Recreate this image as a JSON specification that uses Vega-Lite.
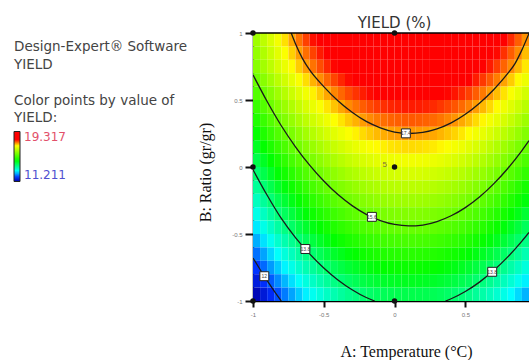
{
"width":276,"height":268,
"autosize":{"type":"none"},
"padding":{"left":253,"top":33,"right":0,"bottom":59},
"background":"white",
"config":{"view":{"stroke":null}},
"title":{"text":["Design-Expert® Software","YIELD"],"anchor":"start","frame":"group","baseline":"top","lineHeight":17.5,"dx":-239,"dy":56,"offset":0,"font":"DejaVu Sans","fontSize":13.5,"fontWeight":"normal","color":"#444444"},
"resolve":{"scale":{"x":"independent","y":"independent"}},
"layer":[
{
"data":{"values":[
{"a":-0.975,"b":0.95,"v":16.1},{"a":-0.925,"b":0.95,"v":16.38},{"a":-0.875,"b":0.95,"v":16.64},{"a":-0.825,"b":0.95,"v":16.89},{"a":-0.775,"b":0.95,"v":17.12},{"a":-0.725,"b":0.95,"v":17.34},{"a":-0.675,"b":0.95,"v":17.55},{"a":-0.625,"b":0.95,"v":17.75},{"a":-0.575,"b":0.95,"v":17.94},{"a":-0.525,"b":0.95,"v":18.11},{"a":-0.475,"b":0.95,"v":18.26},{"a":-0.425,"b":0.95,"v":18.41},{"a":-0.375,"b":0.95,"v":18.54},{"a":-0.325,"b":0.95,"v":18.66},{"a":-0.275,"b":0.95,"v":18.77},{"a":-0.225,"b":0.95,"v":18.86},{"a":-0.175,"b":0.95,"v":18.94},{"a":-0.125,"b":0.95,"v":19.01},{"a":-0.075,"b":0.95,"v":19.06},{"a":-0.025,"b":0.95,"v":19.1},{"a":0.025,"b":0.95,"v":19.13},{"a":0.075,"b":0.95,"v":19.15},{"a":0.125,"b":0.95,"v":19.15},{"a":0.175,"b":0.95,"v":19.14},{"a":0.225,"b":0.95,"v":19.12},{"a":0.275,"b":0.95,"v":19.08},{"a":0.325,"b":0.95,"v":19.03},{"a":0.375,"b":0.95,"v":18.97},{"a":0.425,"b":0.95,"v":18.89},{"a":0.475,"b":0.95,"v":18.81},{"a":0.525,"b":0.95,"v":18.7},{"a":0.575,"b":0.95,"v":18.59},{"a":0.625,"b":0.95,"v":18.46},{"a":0.675,"b":0.95,"v":18.32},{"a":0.725,"b":0.95,"v":18.17},{"a":0.775,"b":0.95,"v":18.01},{"a":0.825,"b":0.95,"v":17.83},{"a":0.875,"b":0.95,"v":17.63},{"a":0.925,"b":0.95,"v":17.43},
{"a":-0.975,"b":0.85,"v":15.99},{"a":-0.925,"b":0.85,"v":16.25},{"a":-0.875,"b":0.85,"v":16.5},{"a":-0.825,"b":0.85,"v":16.74},{"a":-0.775,"b":0.85,"v":16.97},{"a":-0.725,"b":0.85,"v":17.18},{"a":-0.675,"b":0.85,"v":17.38},{"a":-0.625,"b":0.85,"v":17.57},{"a":-0.575,"b":0.85,"v":17.74},{"a":-0.525,"b":0.85,"v":17.9},{"a":-0.475,"b":0.85,"v":18.06},{"a":-0.425,"b":0.85,"v":18.19},{"a":-0.375,"b":0.85,"v":18.32},{"a":-0.325,"b":0.85,"v":18.43},{"a":-0.275,"b":0.85,"v":18.53},{"a":-0.225,"b":0.85,"v":18.62},{"a":-0.175,"b":0.85,"v":18.7},{"a":-0.125,"b":0.85,"v":18.76},{"a":-0.075,"b":0.85,"v":18.82},{"a":-0.025,"b":0.85,"v":18.86},{"a":0.025,"b":0.85,"v":18.88},{"a":0.075,"b":0.85,"v":18.9},{"a":0.125,"b":0.85,"v":18.9},{"a":0.175,"b":0.85,"v":18.89},{"a":0.225,"b":0.85,"v":18.87},{"a":0.275,"b":0.85,"v":18.83},{"a":0.325,"b":0.85,"v":18.79},{"a":0.375,"b":0.85,"v":18.73},{"a":0.425,"b":0.85,"v":18.66},{"a":0.475,"b":0.85,"v":18.57},{"a":0.525,"b":0.85,"v":18.48},{"a":0.575,"b":0.85,"v":18.37},{"a":0.625,"b":0.85,"v":18.25},{"a":0.675,"b":0.85,"v":18.11},{"a":0.725,"b":0.85,"v":17.97},{"a":0.775,"b":0.85,"v":17.81},{"a":0.825,"b":0.85,"v":17.64},{"a":0.875,"b":0.85,"v":17.46},{"a":0.925,"b":0.85,"v":17.26},
{"a":-0.975,"b":0.75,"v":15.88},{"a":-0.925,"b":0.75,"v":16.13},{"a":-0.875,"b":0.75,"v":16.37},{"a":-0.825,"b":0.75,"v":16.6},{"a":-0.775,"b":0.75,"v":16.81},{"a":-0.725,"b":0.75,"v":17.01},{"a":-0.675,"b":0.75,"v":17.2},{"a":-0.625,"b":0.75,"v":17.38},{"a":-0.575,"b":0.75,"v":17.55},{"a":-0.525,"b":0.75,"v":17.7},{"a":-0.475,"b":0.75,"v":17.85},{"a":-0.425,"b":0.75,"v":17.98},{"a":-0.375,"b":0.75,"v":18.1},{"a":-0.325,"b":0.75,"v":18.21},{"a":-0.275,"b":0.75,"v":18.3},{"a":-0.225,"b":0.75,"v":18.39},{"a":-0.175,"b":0.75,"v":18.46},{"a":-0.125,"b":0.75,"v":18.52},{"a":-0.075,"b":0.75,"v":18.57},{"a":-0.025,"b":0.75,"v":18.61},{"a":0.025,"b":0.75,"v":18.63},{"a":0.075,"b":0.75,"v":18.65},{"a":0.125,"b":0.75,"v":18.65},{"a":0.175,"b":0.75,"v":18.64},{"a":0.225,"b":0.75,"v":18.62},{"a":0.275,"b":0.75,"v":18.59},{"a":0.325,"b":0.75,"v":18.54},{"a":0.375,"b":0.75,"v":18.48},{"a":0.425,"b":0.75,"v":18.42},{"a":0.475,"b":0.75,"v":18.34},{"a":0.525,"b":0.75,"v":18.25},{"a":0.575,"b":0.75,"v":18.14},{"a":0.625,"b":0.75,"v":18.03},{"a":0.675,"b":0.75,"v":17.9},{"a":0.725,"b":0.75,"v":17.76},{"a":0.775,"b":0.75,"v":17.61},{"a":0.825,"b":0.75,"v":17.45},{"a":0.875,"b":0.75,"v":17.27},{"a":0.925,"b":0.75,"v":17.09},
{"a":-0.975,"b":0.65,"v":15.63},{"a":-0.925,"b":0.65,"v":15.88},{"a":-0.875,"b":0.65,"v":16.12},{"a":-0.825,"b":0.65,"v":16.35},{"a":-0.775,"b":0.65,"v":16.56},{"a":-0.725,"b":0.65,"v":16.76},{"a":-0.675,"b":0.65,"v":16.95},{"a":-0.625,"b":0.65,"v":17.13},{"a":-0.575,"b":0.65,"v":17.3},{"a":-0.525,"b":0.65,"v":17.45},{"a":-0.475,"b":0.65,"v":17.6},{"a":-0.425,"b":0.65,"v":17.73},{"a":-0.375,"b":0.65,"v":17.85},{"a":-0.325,"b":0.65,"v":17.96},{"a":-0.275,"b":0.65,"v":18.05},{"a":-0.225,"b":0.65,"v":18.14},{"a":-0.175,"b":0.65,"v":18.21},{"a":-0.125,"b":0.65,"v":18.27},{"a":-0.075,"b":0.65,"v":18.32},{"a":-0.025,"b":0.65,"v":18.36},{"a":0.025,"b":0.65,"v":18.38},{"a":0.075,"b":0.65,"v":18.4},{"a":0.125,"b":0.65,"v":18.4},{"a":0.175,"b":0.65,"v":18.39},{"a":0.225,"b":0.65,"v":18.37},{"a":0.275,"b":0.65,"v":18.34},{"a":0.325,"b":0.65,"v":18.29},{"a":0.375,"b":0.65,"v":18.23},{"a":0.425,"b":0.65,"v":18.17},{"a":0.475,"b":0.65,"v":18.09},{"a":0.525,"b":0.65,"v":18},{"a":0.575,"b":0.65,"v":17.89},{"a":0.625,"b":0.65,"v":17.78},{"a":0.675,"b":0.65,"v":17.65},{"a":0.725,"b":0.65,"v":17.51},{"a":0.775,"b":0.65,"v":17.36},{"a":0.825,"b":0.65,"v":17.2},{"a":0.875,"b":0.65,"v":17.02},{"a":0.925,"b":0.65,"v":16.84},
{"a":-0.975,"b":0.55,"v":15.38},{"a":-0.925,"b":0.55,"v":15.63},{"a":-0.875,"b":0.55,"v":15.87},{"a":-0.825,"b":0.55,"v":16.1},{"a":-0.775,"b":0.55,"v":16.31},{"a":-0.725,"b":0.55,"v":16.51},{"a":-0.675,"b":0.55,"v":16.7},{"a":-0.625,"b":0.55,"v":16.88},{"a":-0.575,"b":0.55,"v":17.05},{"a":-0.525,"b":0.55,"v":17.2},{"a":-0.475,"b":0.55,"v":17.35},{"a":-0.425,"b":0.55,"v":17.48},{"a":-0.375,"b":0.55,"v":17.6},{"a":-0.325,"b":0.55,"v":17.71},{"a":-0.275,"b":0.55,"v":17.8},{"a":-0.225,"b":0.55,"v":17.89},{"a":-0.175,"b":0.55,"v":17.96},{"a":-0.125,"b":0.55,"v":18.02},{"a":-0.075,"b":0.55,"v":18.07},{"a":-0.025,"b":0.55,"v":18.11},{"a":0.025,"b":0.55,"v":18.13},{"a":0.075,"b":0.55,"v":18.15},{"a":0.125,"b":0.55,"v":18.15},{"a":0.175,"b":0.55,"v":18.14},{"a":0.225,"b":0.55,"v":18.12},{"a":0.275,"b":0.55,"v":18.09},{"a":0.325,"b":0.55,"v":18.04},{"a":0.375,"b":0.55,"v":17.98},{"a":0.425,"b":0.55,"v":17.92},{"a":0.475,"b":0.55,"v":17.84},{"a":0.525,"b":0.55,"v":17.75},{"a":0.575,"b":0.55,"v":17.64},{"a":0.625,"b":0.55,"v":17.53},{"a":0.675,"b":0.55,"v":17.4},{"a":0.725,"b":0.55,"v":17.26},{"a":0.775,"b":0.55,"v":17.11},{"a":0.825,"b":0.55,"v":16.95},{"a":0.875,"b":0.55,"v":16.77},{"a":0.925,"b":0.55,"v":16.59},
{"a":-0.975,"b":0.45,"v":15.13},{"a":-0.925,"b":0.45,"v":15.38},{"a":-0.875,"b":0.45,"v":15.62},{"a":-0.825,"b":0.45,"v":15.85},{"a":-0.775,"b":0.45,"v":16.06},{"a":-0.725,"b":0.45,"v":16.26},{"a":-0.675,"b":0.45,"v":16.45},{"a":-0.625,"b":0.45,"v":16.63},{"a":-0.575,"b":0.45,"v":16.8},{"a":-0.525,"b":0.45,"v":16.95},{"a":-0.475,"b":0.45,"v":17.1},{"a":-0.425,"b":0.45,"v":17.23},{"a":-0.375,"b":0.45,"v":17.35},{"a":-0.325,"b":0.45,"v":17.46},{"a":-0.275,"b":0.45,"v":17.55},{"a":-0.225,"b":0.45,"v":17.64},{"a":-0.175,"b":0.45,"v":17.71},{"a":-0.125,"b":0.45,"v":17.77},{"a":-0.075,"b":0.45,"v":17.82},{"a":-0.025,"b":0.45,"v":17.86},{"a":0.025,"b":0.45,"v":17.88},{"a":0.075,"b":0.45,"v":17.9},{"a":0.125,"b":0.45,"v":17.9},{"a":0.175,"b":0.45,"v":17.89},{"a":0.225,"b":0.45,"v":17.87},{"a":0.275,"b":0.45,"v":17.84},{"a":0.325,"b":0.45,"v":17.79},{"a":0.375,"b":0.45,"v":17.73},{"a":0.425,"b":0.45,"v":17.67},{"a":0.475,"b":0.45,"v":17.59},{"a":0.525,"b":0.45,"v":17.5},{"a":0.575,"b":0.45,"v":17.39},{"a":0.625,"b":0.45,"v":17.28},{"a":0.675,"b":0.45,"v":17.15},{"a":0.725,"b":0.45,"v":17.01},{"a":0.775,"b":0.45,"v":16.86},{"a":0.825,"b":0.45,"v":16.7},{"a":0.875,"b":0.45,"v":16.52},{"a":0.925,"b":0.45,"v":16.34},
{"a":-0.975,"b":0.35,"v":14.88},{"a":-0.925,"b":0.35,"v":15.13},{"a":-0.875,"b":0.35,"v":15.37},{"a":-0.825,"b":0.35,"v":15.6},{"a":-0.775,"b":0.35,"v":15.81},{"a":-0.725,"b":0.35,"v":16.01},{"a":-0.675,"b":0.35,"v":16.2},{"a":-0.625,"b":0.35,"v":16.38},{"a":-0.575,"b":0.35,"v":16.55},{"a":-0.525,"b":0.35,"v":16.7},{"a":-0.475,"b":0.35,"v":16.85},{"a":-0.425,"b":0.35,"v":16.98},{"a":-0.375,"b":0.35,"v":17.1},{"a":-0.325,"b":0.35,"v":17.21},{"a":-0.275,"b":0.35,"v":17.3},{"a":-0.225,"b":0.35,"v":17.39},{"a":-0.175,"b":0.35,"v":17.46},{"a":-0.125,"b":0.35,"v":17.52},{"a":-0.075,"b":0.35,"v":17.57},{"a":-0.025,"b":0.35,"v":17.61},{"a":0.025,"b":0.35,"v":17.63},{"a":0.075,"b":0.35,"v":17.65},{"a":0.125,"b":0.35,"v":17.65},{"a":0.175,"b":0.35,"v":17.64},{"a":0.225,"b":0.35,"v":17.62},{"a":0.275,"b":0.35,"v":17.59},{"a":0.325,"b":0.35,"v":17.54},{"a":0.375,"b":0.35,"v":17.48},{"a":0.425,"b":0.35,"v":17.42},{"a":0.475,"b":0.35,"v":17.34},{"a":0.525,"b":0.35,"v":17.25},{"a":0.575,"b":0.35,"v":17.14},{"a":0.625,"b":0.35,"v":17.03},{"a":0.675,"b":0.35,"v":16.9},{"a":0.725,"b":0.35,"v":16.76},{"a":0.775,"b":0.35,"v":16.61},{"a":0.825,"b":0.35,"v":16.45},{"a":0.875,"b":0.35,"v":16.27},{"a":0.925,"b":0.35,"v":16.09},
{"a":-0.975,"b":0.25,"v":14.63},{"a":-0.925,"b":0.25,"v":14.88},{"a":-0.875,"b":0.25,"v":15.12},{"a":-0.825,"b":0.25,"v":15.35},{"a":-0.775,"b":0.25,"v":15.56},{"a":-0.725,"b":0.25,"v":15.76},{"a":-0.675,"b":0.25,"v":15.95},{"a":-0.625,"b":0.25,"v":16.13},{"a":-0.575,"b":0.25,"v":16.3},{"a":-0.525,"b":0.25,"v":16.45},{"a":-0.475,"b":0.25,"v":16.6},{"a":-0.425,"b":0.25,"v":16.73},{"a":-0.375,"b":0.25,"v":16.85},{"a":-0.325,"b":0.25,"v":16.96},{"a":-0.275,"b":0.25,"v":17.05},{"a":-0.225,"b":0.25,"v":17.14},{"a":-0.175,"b":0.25,"v":17.21},{"a":-0.125,"b":0.25,"v":17.27},{"a":-0.075,"b":0.25,"v":17.32},{"a":-0.025,"b":0.25,"v":17.36},{"a":0.025,"b":0.25,"v":17.38},{"a":0.075,"b":0.25,"v":17.4},{"a":0.125,"b":0.25,"v":17.4},{"a":0.175,"b":0.25,"v":17.39},{"a":0.225,"b":0.25,"v":17.37},{"a":0.275,"b":0.25,"v":17.34},{"a":0.325,"b":0.25,"v":17.29},{"a":0.375,"b":0.25,"v":17.23},{"a":0.425,"b":0.25,"v":17.17},{"a":0.475,"b":0.25,"v":17.09},{"a":0.525,"b":0.25,"v":17},{"a":0.575,"b":0.25,"v":16.89},{"a":0.625,"b":0.25,"v":16.78},{"a":0.675,"b":0.25,"v":16.65},{"a":0.725,"b":0.25,"v":16.51},{"a":0.775,"b":0.25,"v":16.36},{"a":0.825,"b":0.25,"v":16.2},{"a":0.875,"b":0.25,"v":16.02},{"a":0.925,"b":0.25,"v":15.84},
{"a":-0.975,"b":0.15,"v":14.37},{"a":-0.925,"b":0.15,"v":14.62},{"a":-0.875,"b":0.15,"v":14.86},{"a":-0.825,"b":0.15,"v":15.09},{"a":-0.775,"b":0.15,"v":15.3},{"a":-0.725,"b":0.15,"v":15.5},{"a":-0.675,"b":0.15,"v":15.69},{"a":-0.625,"b":0.15,"v":15.87},{"a":-0.575,"b":0.15,"v":16.04},{"a":-0.525,"b":0.15,"v":16.19},{"a":-0.475,"b":0.15,"v":16.34},{"a":-0.425,"b":0.15,"v":16.47},{"a":-0.375,"b":0.15,"v":16.59},{"a":-0.325,"b":0.15,"v":16.7},{"a":-0.275,"b":0.15,"v":16.79},{"a":-0.225,"b":0.15,"v":16.88},{"a":-0.175,"b":0.15,"v":16.95},{"a":-0.125,"b":0.15,"v":17.01},{"a":-0.075,"b":0.15,"v":17.06},{"a":-0.025,"b":0.15,"v":17.1},{"a":0.025,"b":0.15,"v":17.12},{"a":0.075,"b":0.15,"v":17.14},{"a":0.125,"b":0.15,"v":17.14},{"a":0.175,"b":0.15,"v":17.13},{"a":0.225,"b":0.15,"v":17.11},{"a":0.275,"b":0.15,"v":17.08},{"a":0.325,"b":0.15,"v":17.03},{"a":0.375,"b":0.15,"v":16.97},{"a":0.425,"b":0.15,"v":16.91},{"a":0.475,"b":0.15,"v":16.83},{"a":0.525,"b":0.15,"v":16.74},{"a":0.575,"b":0.15,"v":16.63},{"a":0.625,"b":0.15,"v":16.52},{"a":0.675,"b":0.15,"v":16.39},{"a":0.725,"b":0.15,"v":16.25},{"a":0.775,"b":0.15,"v":16.1},{"a":0.825,"b":0.15,"v":15.94},{"a":0.875,"b":0.15,"v":15.76},{"a":0.925,"b":0.15,"v":15.58},
{"a":-0.975,"b":0.05,"v":14.11},{"a":-0.925,"b":0.05,"v":14.36},{"a":-0.875,"b":0.05,"v":14.6},{"a":-0.825,"b":0.05,"v":14.83},{"a":-0.775,"b":0.05,"v":15.04},{"a":-0.725,"b":0.05,"v":15.24},{"a":-0.675,"b":0.05,"v":15.43},{"a":-0.625,"b":0.05,"v":15.61},{"a":-0.575,"b":0.05,"v":15.78},{"a":-0.525,"b":0.05,"v":15.93},{"a":-0.475,"b":0.05,"v":16.08},{"a":-0.425,"b":0.05,"v":16.21},{"a":-0.375,"b":0.05,"v":16.33},{"a":-0.325,"b":0.05,"v":16.44},{"a":-0.275,"b":0.05,"v":16.53},{"a":-0.225,"b":0.05,"v":16.62},{"a":-0.175,"b":0.05,"v":16.69},{"a":-0.125,"b":0.05,"v":16.75},{"a":-0.075,"b":0.05,"v":16.8},{"a":-0.025,"b":0.05,"v":16.84},{"a":0.025,"b":0.05,"v":16.86},{"a":0.075,"b":0.05,"v":16.88},{"a":0.125,"b":0.05,"v":16.88},{"a":0.175,"b":0.05,"v":16.87},{"a":0.225,"b":0.05,"v":16.85},{"a":0.275,"b":0.05,"v":16.82},{"a":0.325,"b":0.05,"v":16.77},{"a":0.375,"b":0.05,"v":16.71},{"a":0.425,"b":0.05,"v":16.65},{"a":0.475,"b":0.05,"v":16.57},{"a":0.525,"b":0.05,"v":16.48},{"a":0.575,"b":0.05,"v":16.37},{"a":0.625,"b":0.05,"v":16.26},{"a":0.675,"b":0.05,"v":16.13},{"a":0.725,"b":0.05,"v":15.99},{"a":0.775,"b":0.05,"v":15.84},{"a":0.825,"b":0.05,"v":15.68},{"a":0.875,"b":0.05,"v":15.5},{"a":0.925,"b":0.05,"v":15.32},
{"a":-0.975,"b":-0.05,"v":13.85},{"a":-0.925,"b":-0.05,"v":14.1},{"a":-0.875,"b":-0.05,"v":14.34},{"a":-0.825,"b":-0.05,"v":14.57},{"a":-0.775,"b":-0.05,"v":14.78},{"a":-0.725,"b":-0.05,"v":14.98},{"a":-0.675,"b":-0.05,"v":15.17},{"a":-0.625,"b":-0.05,"v":15.35},{"a":-0.575,"b":-0.05,"v":15.52},{"a":-0.525,"b":-0.05,"v":15.67},{"a":-0.475,"b":-0.05,"v":15.82},{"a":-0.425,"b":-0.05,"v":15.95},{"a":-0.375,"b":-0.05,"v":16.07},{"a":-0.325,"b":-0.05,"v":16.18},{"a":-0.275,"b":-0.05,"v":16.27},{"a":-0.225,"b":-0.05,"v":16.36},{"a":-0.175,"b":-0.05,"v":16.43},{"a":-0.125,"b":-0.05,"v":16.49},{"a":-0.075,"b":-0.05,"v":16.54},{"a":-0.025,"b":-0.05,"v":16.58},{"a":0.025,"b":-0.05,"v":16.6},{"a":0.075,"b":-0.05,"v":16.62},{"a":0.125,"b":-0.05,"v":16.62},{"a":0.175,"b":-0.05,"v":16.61},{"a":0.225,"b":-0.05,"v":16.59},{"a":0.275,"b":-0.05,"v":16.56},{"a":0.325,"b":-0.05,"v":16.51},{"a":0.375,"b":-0.05,"v":16.45},{"a":0.425,"b":-0.05,"v":16.39},{"a":0.475,"b":-0.05,"v":16.31},{"a":0.525,"b":-0.05,"v":16.22},{"a":0.575,"b":-0.05,"v":16.11},{"a":0.625,"b":-0.05,"v":16},{"a":0.675,"b":-0.05,"v":15.87},{"a":0.725,"b":-0.05,"v":15.73},{"a":0.775,"b":-0.05,"v":15.58},{"a":0.825,"b":-0.05,"v":15.42},{"a":0.875,"b":-0.05,"v":15.24},{"a":0.925,"b":-0.05,"v":15.06},
{"a":-0.975,"b":-0.15,"v":13.59},{"a":-0.925,"b":-0.15,"v":13.84},{"a":-0.875,"b":-0.15,"v":14.08},{"a":-0.825,"b":-0.15,"v":14.31},{"a":-0.775,"b":-0.15,"v":14.52},{"a":-0.725,"b":-0.15,"v":14.72},{"a":-0.675,"b":-0.15,"v":14.91},{"a":-0.625,"b":-0.15,"v":15.09},{"a":-0.575,"b":-0.15,"v":15.26},{"a":-0.525,"b":-0.15,"v":15.41},{"a":-0.475,"b":-0.15,"v":15.56},{"a":-0.425,"b":-0.15,"v":15.69},{"a":-0.375,"b":-0.15,"v":15.81},{"a":-0.325,"b":-0.15,"v":15.92},{"a":-0.275,"b":-0.15,"v":16.01},{"a":-0.225,"b":-0.15,"v":16.1},{"a":-0.175,"b":-0.15,"v":16.17},{"a":-0.125,"b":-0.15,"v":16.23},{"a":-0.075,"b":-0.15,"v":16.28},{"a":-0.025,"b":-0.15,"v":16.32},{"a":0.025,"b":-0.15,"v":16.34},{"a":0.075,"b":-0.15,"v":16.36},{"a":0.125,"b":-0.15,"v":16.36},{"a":0.175,"b":-0.15,"v":16.35},{"a":0.225,"b":-0.15,"v":16.33},{"a":0.275,"b":-0.15,"v":16.3},{"a":0.325,"b":-0.15,"v":16.25},{"a":0.375,"b":-0.15,"v":16.19},{"a":0.425,"b":-0.15,"v":16.13},{"a":0.475,"b":-0.15,"v":16.05},{"a":0.525,"b":-0.15,"v":15.96},{"a":0.575,"b":-0.15,"v":15.85},{"a":0.625,"b":-0.15,"v":15.74},{"a":0.675,"b":-0.15,"v":15.61},{"a":0.725,"b":-0.15,"v":15.47},{"a":0.775,"b":-0.15,"v":15.32},{"a":0.825,"b":-0.15,"v":15.16},{"a":0.875,"b":-0.15,"v":14.98},{"a":0.925,"b":-0.15,"v":14.8},
{"a":-0.975,"b":-0.25,"v":13.33},{"a":-0.925,"b":-0.25,"v":13.58},{"a":-0.875,"b":-0.25,"v":13.82},{"a":-0.825,"b":-0.25,"v":14.05},{"a":-0.775,"b":-0.25,"v":14.26},{"a":-0.725,"b":-0.25,"v":14.46},{"a":-0.675,"b":-0.25,"v":14.65},{"a":-0.625,"b":-0.25,"v":14.83},{"a":-0.575,"b":-0.25,"v":15},{"a":-0.525,"b":-0.25,"v":15.15},{"a":-0.475,"b":-0.25,"v":15.3},{"a":-0.425,"b":-0.25,"v":15.43},{"a":-0.375,"b":-0.25,"v":15.55},{"a":-0.325,"b":-0.25,"v":15.66},{"a":-0.275,"b":-0.25,"v":15.75},{"a":-0.225,"b":-0.25,"v":15.84},{"a":-0.175,"b":-0.25,"v":15.91},{"a":-0.125,"b":-0.25,"v":15.97},{"a":-0.075,"b":-0.25,"v":16.02},{"a":-0.025,"b":-0.25,"v":16.06},{"a":0.025,"b":-0.25,"v":16.08},{"a":0.075,"b":-0.25,"v":16.1},{"a":0.125,"b":-0.25,"v":16.1},{"a":0.175,"b":-0.25,"v":16.09},{"a":0.225,"b":-0.25,"v":16.07},{"a":0.275,"b":-0.25,"v":16.04},{"a":0.325,"b":-0.25,"v":15.99},{"a":0.375,"b":-0.25,"v":15.93},{"a":0.425,"b":-0.25,"v":15.87},{"a":0.475,"b":-0.25,"v":15.79},{"a":0.525,"b":-0.25,"v":15.7},{"a":0.575,"b":-0.25,"v":15.59},{"a":0.625,"b":-0.25,"v":15.48},{"a":0.675,"b":-0.25,"v":15.35},{"a":0.725,"b":-0.25,"v":15.21},{"a":0.775,"b":-0.25,"v":15.06},{"a":0.825,"b":-0.25,"v":14.9},{"a":0.875,"b":-0.25,"v":14.72},{"a":0.925,"b":-0.25,"v":14.54},
{"a":-0.975,"b":-0.35,"v":13.06},{"a":-0.925,"b":-0.35,"v":13.31},{"a":-0.875,"b":-0.35,"v":13.55},{"a":-0.825,"b":-0.35,"v":13.78},{"a":-0.775,"b":-0.35,"v":13.99},{"a":-0.725,"b":-0.35,"v":14.19},{"a":-0.675,"b":-0.35,"v":14.38},{"a":-0.625,"b":-0.35,"v":14.56},{"a":-0.575,"b":-0.35,"v":14.73},{"a":-0.525,"b":-0.35,"v":14.88},{"a":-0.475,"b":-0.35,"v":15.03},{"a":-0.425,"b":-0.35,"v":15.16},{"a":-0.375,"b":-0.35,"v":15.28},{"a":-0.325,"b":-0.35,"v":15.39},{"a":-0.275,"b":-0.35,"v":15.48},{"a":-0.225,"b":-0.35,"v":15.57},{"a":-0.175,"b":-0.35,"v":15.64},{"a":-0.125,"b":-0.35,"v":15.7},{"a":-0.075,"b":-0.35,"v":15.75},{"a":-0.025,"b":-0.35,"v":15.79},{"a":0.025,"b":-0.35,"v":15.81},{"a":0.075,"b":-0.35,"v":15.83},{"a":0.125,"b":-0.35,"v":15.83},{"a":0.175,"b":-0.35,"v":15.82},{"a":0.225,"b":-0.35,"v":15.8},{"a":0.275,"b":-0.35,"v":15.77},{"a":0.325,"b":-0.35,"v":15.72},{"a":0.375,"b":-0.35,"v":15.66},{"a":0.425,"b":-0.35,"v":15.6},{"a":0.475,"b":-0.35,"v":15.52},{"a":0.525,"b":-0.35,"v":15.43},{"a":0.575,"b":-0.35,"v":15.32},{"a":0.625,"b":-0.35,"v":15.21},{"a":0.675,"b":-0.35,"v":15.08},{"a":0.725,"b":-0.35,"v":14.94},{"a":0.775,"b":-0.35,"v":14.79},{"a":0.825,"b":-0.35,"v":14.63},{"a":0.875,"b":-0.35,"v":14.45},{"a":0.925,"b":-0.35,"v":14.27},
{"a":-0.975,"b":-0.45,"v":12.8},{"a":-0.925,"b":-0.45,"v":13.05},{"a":-0.875,"b":-0.45,"v":13.29},{"a":-0.825,"b":-0.45,"v":13.52},{"a":-0.775,"b":-0.45,"v":13.73},{"a":-0.725,"b":-0.45,"v":13.93},{"a":-0.675,"b":-0.45,"v":14.12},{"a":-0.625,"b":-0.45,"v":14.3},{"a":-0.575,"b":-0.45,"v":14.47},{"a":-0.525,"b":-0.45,"v":14.62},{"a":-0.475,"b":-0.45,"v":14.77},{"a":-0.425,"b":-0.45,"v":14.9},{"a":-0.375,"b":-0.45,"v":15.02},{"a":-0.325,"b":-0.45,"v":15.13},{"a":-0.275,"b":-0.45,"v":15.22},{"a":-0.225,"b":-0.45,"v":15.31},{"a":-0.175,"b":-0.45,"v":15.38},{"a":-0.125,"b":-0.45,"v":15.44},{"a":-0.075,"b":-0.45,"v":15.49},{"a":-0.025,"b":-0.45,"v":15.53},{"a":0.025,"b":-0.45,"v":15.55},{"a":0.075,"b":-0.45,"v":15.57},{"a":0.125,"b":-0.45,"v":15.57},{"a":0.175,"b":-0.45,"v":15.56},{"a":0.225,"b":-0.45,"v":15.54},{"a":0.275,"b":-0.45,"v":15.51},{"a":0.325,"b":-0.45,"v":15.46},{"a":0.375,"b":-0.45,"v":15.4},{"a":0.425,"b":-0.45,"v":15.34},{"a":0.475,"b":-0.45,"v":15.26},{"a":0.525,"b":-0.45,"v":15.17},{"a":0.575,"b":-0.45,"v":15.06},{"a":0.625,"b":-0.45,"v":14.95},{"a":0.675,"b":-0.45,"v":14.82},{"a":0.725,"b":-0.45,"v":14.68},{"a":0.775,"b":-0.45,"v":14.53},{"a":0.825,"b":-0.45,"v":14.37},{"a":0.875,"b":-0.45,"v":14.19},{"a":0.925,"b":-0.45,"v":14.01},
{"a":-0.975,"b":-0.55,"v":12.51},{"a":-0.925,"b":-0.55,"v":12.76},{"a":-0.875,"b":-0.55,"v":13},{"a":-0.825,"b":-0.55,"v":13.23},{"a":-0.775,"b":-0.55,"v":13.44},{"a":-0.725,"b":-0.55,"v":13.64},{"a":-0.675,"b":-0.55,"v":13.83},{"a":-0.625,"b":-0.55,"v":14.01},{"a":-0.575,"b":-0.55,"v":14.18},{"a":-0.525,"b":-0.55,"v":14.33},{"a":-0.475,"b":-0.55,"v":14.48},{"a":-0.425,"b":-0.55,"v":14.61},{"a":-0.375,"b":-0.55,"v":14.73},{"a":-0.325,"b":-0.55,"v":14.84},{"a":-0.275,"b":-0.55,"v":14.93},{"a":-0.225,"b":-0.55,"v":15.02},{"a":-0.175,"b":-0.55,"v":15.09},{"a":-0.125,"b":-0.55,"v":15.15},{"a":-0.075,"b":-0.55,"v":15.2},{"a":-0.025,"b":-0.55,"v":15.24},{"a":0.025,"b":-0.55,"v":15.26},{"a":0.075,"b":-0.55,"v":15.28},{"a":0.125,"b":-0.55,"v":15.28},{"a":0.175,"b":-0.55,"v":15.27},{"a":0.225,"b":-0.55,"v":15.25},{"a":0.275,"b":-0.55,"v":15.22},{"a":0.325,"b":-0.55,"v":15.17},{"a":0.375,"b":-0.55,"v":15.11},{"a":0.425,"b":-0.55,"v":15.05},{"a":0.475,"b":-0.55,"v":14.97},{"a":0.525,"b":-0.55,"v":14.88},{"a":0.575,"b":-0.55,"v":14.77},{"a":0.625,"b":-0.55,"v":14.66},{"a":0.675,"b":-0.55,"v":14.53},{"a":0.725,"b":-0.55,"v":14.39},{"a":0.775,"b":-0.55,"v":14.24},{"a":0.825,"b":-0.55,"v":14.08},{"a":0.875,"b":-0.55,"v":13.9},{"a":0.925,"b":-0.55,"v":13.72},
{"a":-0.975,"b":-0.65,"v":12.21},{"a":-0.925,"b":-0.65,"v":12.46},{"a":-0.875,"b":-0.65,"v":12.7},{"a":-0.825,"b":-0.65,"v":12.93},{"a":-0.775,"b":-0.65,"v":13.14},{"a":-0.725,"b":-0.65,"v":13.34},{"a":-0.675,"b":-0.65,"v":13.53},{"a":-0.625,"b":-0.65,"v":13.71},{"a":-0.575,"b":-0.65,"v":13.88},{"a":-0.525,"b":-0.65,"v":14.03},{"a":-0.475,"b":-0.65,"v":14.18},{"a":-0.425,"b":-0.65,"v":14.31},{"a":-0.375,"b":-0.65,"v":14.43},{"a":-0.325,"b":-0.65,"v":14.54},{"a":-0.275,"b":-0.65,"v":14.63},{"a":-0.225,"b":-0.65,"v":14.72},{"a":-0.175,"b":-0.65,"v":14.79},{"a":-0.125,"b":-0.65,"v":14.85},{"a":-0.075,"b":-0.65,"v":14.9},{"a":-0.025,"b":-0.65,"v":14.94},{"a":0.025,"b":-0.65,"v":14.96},{"a":0.075,"b":-0.65,"v":14.98},{"a":0.125,"b":-0.65,"v":14.98},{"a":0.175,"b":-0.65,"v":14.97},{"a":0.225,"b":-0.65,"v":14.95},{"a":0.275,"b":-0.65,"v":14.92},{"a":0.325,"b":-0.65,"v":14.87},{"a":0.375,"b":-0.65,"v":14.81},{"a":0.425,"b":-0.65,"v":14.75},{"a":0.475,"b":-0.65,"v":14.67},{"a":0.525,"b":-0.65,"v":14.58},{"a":0.575,"b":-0.65,"v":14.47},{"a":0.625,"b":-0.65,"v":14.36},{"a":0.675,"b":-0.65,"v":14.23},{"a":0.725,"b":-0.65,"v":14.09},{"a":0.775,"b":-0.65,"v":13.94},{"a":0.825,"b":-0.65,"v":13.78},{"a":0.875,"b":-0.65,"v":13.6},{"a":0.925,"b":-0.65,"v":13.42},
{"a":-0.975,"b":-0.75,"v":11.92},{"a":-0.925,"b":-0.75,"v":12.17},{"a":-0.875,"b":-0.75,"v":12.41},{"a":-0.825,"b":-0.75,"v":12.64},{"a":-0.775,"b":-0.75,"v":12.85},{"a":-0.725,"b":-0.75,"v":13.05},{"a":-0.675,"b":-0.75,"v":13.24},{"a":-0.625,"b":-0.75,"v":13.42},{"a":-0.575,"b":-0.75,"v":13.59},{"a":-0.525,"b":-0.75,"v":13.74},{"a":-0.475,"b":-0.75,"v":13.89},{"a":-0.425,"b":-0.75,"v":14.02},{"a":-0.375,"b":-0.75,"v":14.14},{"a":-0.325,"b":-0.75,"v":14.25},{"a":-0.275,"b":-0.75,"v":14.34},{"a":-0.225,"b":-0.75,"v":14.43},{"a":-0.175,"b":-0.75,"v":14.5},{"a":-0.125,"b":-0.75,"v":14.56},{"a":-0.075,"b":-0.75,"v":14.61},{"a":-0.025,"b":-0.75,"v":14.65},{"a":0.025,"b":-0.75,"v":14.67},{"a":0.075,"b":-0.75,"v":14.69},{"a":0.125,"b":-0.75,"v":14.69},{"a":0.175,"b":-0.75,"v":14.68},{"a":0.225,"b":-0.75,"v":14.66},{"a":0.275,"b":-0.75,"v":14.63},{"a":0.325,"b":-0.75,"v":14.58},{"a":0.375,"b":-0.75,"v":14.52},{"a":0.425,"b":-0.75,"v":14.46},{"a":0.475,"b":-0.75,"v":14.38},{"a":0.525,"b":-0.75,"v":14.29},{"a":0.575,"b":-0.75,"v":14.18},{"a":0.625,"b":-0.75,"v":14.07},{"a":0.675,"b":-0.75,"v":13.94},{"a":0.725,"b":-0.75,"v":13.8},{"a":0.775,"b":-0.75,"v":13.65},{"a":0.825,"b":-0.75,"v":13.49},{"a":0.875,"b":-0.75,"v":13.31},{"a":0.925,"b":-0.75,"v":13.13},
{"a":-0.975,"b":-0.85,"v":11.62},{"a":-0.925,"b":-0.85,"v":11.87},{"a":-0.875,"b":-0.85,"v":12.11},{"a":-0.825,"b":-0.85,"v":12.34},{"a":-0.775,"b":-0.85,"v":12.55},{"a":-0.725,"b":-0.85,"v":12.75},{"a":-0.675,"b":-0.85,"v":12.94},{"a":-0.625,"b":-0.85,"v":13.12},{"a":-0.575,"b":-0.85,"v":13.29},{"a":-0.525,"b":-0.85,"v":13.44},{"a":-0.475,"b":-0.85,"v":13.59},{"a":-0.425,"b":-0.85,"v":13.72},{"a":-0.375,"b":-0.85,"v":13.84},{"a":-0.325,"b":-0.85,"v":13.95},{"a":-0.275,"b":-0.85,"v":14.04},{"a":-0.225,"b":-0.85,"v":14.13},{"a":-0.175,"b":-0.85,"v":14.2},{"a":-0.125,"b":-0.85,"v":14.26},{"a":-0.075,"b":-0.85,"v":14.31},{"a":-0.025,"b":-0.85,"v":14.35},{"a":0.025,"b":-0.85,"v":14.37},{"a":0.075,"b":-0.85,"v":14.39},{"a":0.125,"b":-0.85,"v":14.39},{"a":0.175,"b":-0.85,"v":14.38},{"a":0.225,"b":-0.85,"v":14.36},{"a":0.275,"b":-0.85,"v":14.33},{"a":0.325,"b":-0.85,"v":14.28},{"a":0.375,"b":-0.85,"v":14.22},{"a":0.425,"b":-0.85,"v":14.16},{"a":0.475,"b":-0.85,"v":14.08},{"a":0.525,"b":-0.85,"v":13.99},{"a":0.575,"b":-0.85,"v":13.88},{"a":0.625,"b":-0.85,"v":13.77},{"a":0.675,"b":-0.85,"v":13.64},{"a":0.725,"b":-0.85,"v":13.5},{"a":0.775,"b":-0.85,"v":13.35},{"a":0.825,"b":-0.85,"v":13.19},{"a":0.875,"b":-0.85,"v":13.01},{"a":0.925,"b":-0.85,"v":12.83},
{"a":-0.975,"b":-0.95,"v":11.33},{"a":-0.925,"b":-0.95,"v":11.58},{"a":-0.875,"b":-0.95,"v":11.82},{"a":-0.825,"b":-0.95,"v":12.05},{"a":-0.775,"b":-0.95,"v":12.26},{"a":-0.725,"b":-0.95,"v":12.46},{"a":-0.675,"b":-0.95,"v":12.65},{"a":-0.625,"b":-0.95,"v":12.83},{"a":-0.575,"b":-0.95,"v":13},{"a":-0.525,"b":-0.95,"v":13.15},{"a":-0.475,"b":-0.95,"v":13.3},{"a":-0.425,"b":-0.95,"v":13.43},{"a":-0.375,"b":-0.95,"v":13.55},{"a":-0.325,"b":-0.95,"v":13.66},{"a":-0.275,"b":-0.95,"v":13.75},{"a":-0.225,"b":-0.95,"v":13.84},{"a":-0.175,"b":-0.95,"v":13.91},{"a":-0.125,"b":-0.95,"v":13.97},{"a":-0.075,"b":-0.95,"v":14.02},{"a":-0.025,"b":-0.95,"v":14.06},{"a":0.025,"b":-0.95,"v":14.08},{"a":0.075,"b":-0.95,"v":14.1},{"a":0.125,"b":-0.95,"v":14.1},{"a":0.175,"b":-0.95,"v":14.09},{"a":0.225,"b":-0.95,"v":14.07},{"a":0.275,"b":-0.95,"v":14.04},{"a":0.325,"b":-0.95,"v":13.99},{"a":0.375,"b":-0.95,"v":13.93},{"a":0.425,"b":-0.95,"v":13.87},{"a":0.475,"b":-0.95,"v":13.79},{"a":0.525,"b":-0.95,"v":13.7},{"a":0.575,"b":-0.95,"v":13.59},{"a":0.625,"b":-0.95,"v":13.48},{"a":0.675,"b":-0.95,"v":13.35},{"a":0.725,"b":-0.95,"v":13.21},{"a":0.775,"b":-0.95,"v":13.06},{"a":0.825,"b":-0.95,"v":12.9},{"a":0.875,"b":-0.95,"v":12.72},{"a":0.925,"b":-0.95,"v":12.54}
]},
"mark":{"type":"rect"},
"encoding":{
"x":{"field":"a","type":"ordinal","scale":{"paddingInner":0,"paddingOuter":0},
"axis":{"orient":"top","labels":false,"ticks":false,"domain":false,"grid":false,"title":"YIELD (%)","titleFont":"DejaVu Sans","titleFontSize":15,"titleFontWeight":"normal","titleColor":"#333333","titleX":141,"titleY":-6,"titleAlign":"center","titleBaseline":"alphabetic"}},
"y":{"field":"b","type":"ordinal","sort":"descending","axis":null,"scale":{"paddingInner":0,"paddingOuter":0}},
"color":{"field":"v","type":"quantitative","scale":{"type":"linear","domain":[11.211,11.9,12.9,14.6,17.0,18.0,19.317],"range":["#0000a8","#0030ff","#00ffff","#00ff00","#ffff00","#ff0000","#ff0000"],"interpolate":"rgb","clamp":true},
"legend":{"type":"gradient","orient":"none","legendX":-239,"legendY":60.5,"direction":"vertical",
"title":["Color points by value of","YIELD:"],
"titleFont":"DejaVu Sans","titleFontSize":13.5,"titleFontWeight":"normal","titleColor":"#444444","titleLineHeight":17.5,"titlePadding":7,"titleAnchor":"start","titleLimit":400,
"gradientLength":50,"gradientThickness":6,"gradientStrokeColor":"#222222","gradientStrokeWidth":1,
"values":[11.211,19.317],"format":".3f","labelFont":"DejaVu Sans","labelFontSize":12,"labelOffset":4,"padding":0,"offset":0,
"encode":{"labels":{"update":{"fill":{"signal":"datum.value > 15 ? '#e2506a' : '#5050d0'"}}}}}}
}
},
{
"encoding":{
"x":{"field":"A","type":"quantitative","scale":{"domain":[-1,0.95],"nice":false,"zero":false},
"axis":{"values":[-1,-0.5,0,0.5],"labelExpr":"'' + datum.value","title":"A: Temperature (°C)","grid":false,"domainColor":"#000000","domainWidth":1.5,"tickColor":"#111111","tickWidth":2,"tickSize":6,"labelFont":"Liberation Sans","labelFontSize":6,"labelColor":"#777777","labelPadding":4,"labelFlush":false,"titleFont":"Liberation Serif","titleFontSize":16,"titleFontWeight":"normal","titleColor":"#111111","titleX":153,"titleY":55,"titleAlign":"center","titleBaseline":"alphabetic"}},
"y":{"field":"B","type":"quantitative","scale":{"domain":[-1,1],"nice":false,"zero":false},
"axis":{"values":[-1,-0.5,0,0.5,1],"labelExpr":"'' + datum.value","title":"B: Ratio (gr/gr)","grid":false,"domainColor":"#000000","domainWidth":1.5,"tickColor":"#111111","tickWidth":2,"tickSize":8,"labelFont":"Liberation Sans","labelFontSize":6,"labelColor":"#777777","labelPadding":3,"labelFlush":false,"titleFont":"Liberation Serif","titleFontSize":16,"titleFontWeight":"normal","titleColor":"#111111","titleX":-48,"titleY":139,"titleAlign":"center","titleBaseline":"middle"}}
},
"layer":[
{
"data":{"values":[
{"A":-0.73,"B":1.0,"c":"C1"},{"A":-0.7,"B":0.92,"c":"C1"},{"A":-0.65,"B":0.809,"c":"C1"},{"A":-0.6,"B":0.724,"c":"C1"},{"A":-0.5,"B":0.6,"c":"C1"},{"A":-0.4,"B":0.494,"c":"C1"},{"A":-0.3,"B":0.408,"c":"C1"},{"A":-0.2,"B":0.34,"c":"C1"},{"A":-0.1,"B":0.292,"c":"C1"},{"A":0,"B":0.261,"c":"C1"},{"A":0.1,"B":0.25,"c":"C1"},{"A":0.2,"B":0.258,"c":"C1"},{"A":0.3,"B":0.284,"c":"C1"},{"A":0.4,"B":0.329,"c":"C1"},{"A":0.5,"B":0.393,"c":"C1"},{"A":0.6,"B":0.476,"c":"C1"},{"A":0.7,"B":0.577,"c":"C1"},{"A":0.8,"B":0.698,"c":"C1"},{"A":0.85,"B":0.77,"c":"C1"},{"A":0.9,"B":0.874,"c":"C1"},{"A":0.95,"B":0.997,"c":"C1"},
{"A":-1,"B":0.688,"c":"C2"},{"A":-0.9,"B":0.489,"c":"C2"},{"A":-0.8,"B":0.308,"c":"C2"},{"A":-0.7,"B":0.151,"c":"C2"},{"A":-0.6,"B":0.014,"c":"C2"},{"A":-0.5,"B":-0.105,"c":"C2"},{"A":-0.4,"B":-0.206,"c":"C2"},{"A":-0.3,"B":-0.288,"c":"C2"},{"A":-0.2,"B":-0.353,"c":"C2"},{"A":-0.1,"B":-0.4,"c":"C2"},{"A":0,"B":-0.429,"c":"C2"},{"A":0.1,"B":-0.44,"c":"C2"},{"A":0.2,"B":-0.433,"c":"C2"},{"A":0.3,"B":-0.407,"c":"C2"},{"A":0.4,"B":-0.364,"c":"C2"},{"A":0.5,"B":-0.303,"c":"C2"},{"A":0.6,"B":-0.224,"c":"C2"},{"A":0.7,"B":-0.126,"c":"C2"},{"A":0.8,"B":-0.011,"c":"C2"},{"A":0.9,"B":0.122,"c":"C2"},{"A":0.95,"B":0.196,"c":"C2"},
{"A":-1,"B":-0.02,"c":"C3a"},{"A":-0.9,"B":-0.211,"c":"C3a"},{"A":-0.8,"B":-0.384,"c":"C3a"},{"A":-0.7,"B":-0.527,"c":"C3a"},{"A":-0.6,"B":-0.648,"c":"C3a"},{"A":-0.5,"B":-0.754,"c":"C3a"},{"A":-0.4,"B":-0.843,"c":"C3a"},{"A":-0.3,"B":-0.916,"c":"C3a"},{"A":-0.2,"B":-0.974,"c":"C3a"},{"A":-0.14,"B":-1.0,"c":"C3a"},
{"A":0.36,"B":-1.0,"c":"C3b"},{"A":0.4,"B":-0.983,"c":"C3b"},{"A":0.5,"B":-0.929,"c":"C3b"},{"A":0.6,"B":-0.859,"c":"C3b"},{"A":0.7,"B":-0.773,"c":"C3b"},{"A":0.8,"B":-0.671,"c":"C3b"},{"A":0.9,"B":-0.553,"c":"C3b"},{"A":0.95,"B":-0.488,"c":"C3b"},
{"A":-1,"B":-0.679,"c":"C4"},{"A":-0.95,"B":-0.765,"c":"C4"},{"A":-0.9,"B":-0.848,"c":"C4"},{"A":-0.85,"B":-0.926,"c":"C4"},{"A":-0.8,"B":-1.0,"c":"C4"}
]},
"mark":{"type":"line","interpolate":"monotone","color":"#1a1a1a","strokeWidth":1.3,"clip":true},
"encoding":{"detail":{"field":"c","type":"nominal"}}
},
{
"data":{"values":[{"A":-1,"A2":0.95,"B":1}]},
"mark":{"type":"rule","color":"#000000","strokeWidth":1.5},
"encoding":{"x2":{"field":"A2"}}
},
{
"data":{"values":[{"A":0.08,"B":0.251,"t":"17.4"},{"A":-0.16,"B":-0.372,"t":"15.6"},{"A":-0.63,"B":-0.612,"t":"13.8"},{"A":0.69,"B":-0.782,"t":"13.8"},{"A":-0.92,"B":-0.815,"t":"12"}]},
"layer":[
{"mark":{"type":"point","shape":"square","filled":true,"fill":"#ffffff","stroke":"#222222","strokeWidth":1,"size":80,"opacity":1}},
{"mark":{"type":"text","fontSize":5,"font":"Liberation Sans","color":"#444444"},"encoding":{"text":{"field":"t"}}}
]
},
{
"data":{"values":[{"A":-1,"B":1},{"A":0,"B":1},{"A":-1,"B":0},{"A":0,"B":0},{"A":-1,"B":-1},{"A":0,"B":-1}]},
"mark":{"type":"point","shape":"circle","filled":true,"color":"#111111","size":30,"opacity":1}
},
{
"data":{"values":[{"A":-0.07,"B":0.015,"t":"5"}]},
"mark":{"type":"text","fontSize":8,"font":"Liberation Sans","color":"#7a7040"},
"encoding":{"text":{"field":"t"}}
}
]
}
]
}
